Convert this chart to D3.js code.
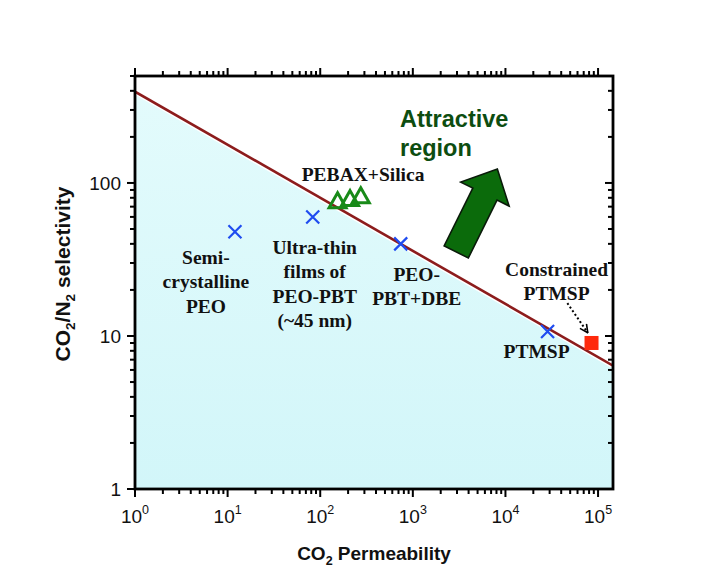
<!DOCTYPE html>
<html>
<head>
<meta charset="utf-8">
<script src="https://cdn.jsdelivr.net/npm/d3@7"></script>
<style>
  body { margin: 0; background: #fff; }
  svg { display: block; }
</style>
</head>
<body>
<svg id="chart" width="701" height="581"></svg>
<script>
// axis ranges and tick labels
const xDomain = [1, 1.45e5];
const yDomain = [1, 500];
const xTickExps = [0, 1, 2, 3, 4, 5];
const yTickLabels = [1, 10, 100];

// Robeson-type upper bound (end points)
const upperBound = [
  { p: 1, s: 395 },
  { p: 1.45e5, s: 6.4 }
];

// blue crosses
const crossPoints = [
  { p: 12, s: 48, label: ["Semi-", "crystalline", "PEO"] },
  { p: 83, s: 60, label: ["Ultra-thin", "films of", "PEO-PBT", "(~45 nm)"] },
  { p: 740, s: 40, label: ["PEO-", "PBT+DBE"] },
  { p: 28500, s: 10.7, label: ["PTMSP"] }
];

// green triangles
const silicaPoints = [
  { p: 154, s: 76.5 },
  { p: 210, s: 79 },
  { p: 274, s: 82.5 }
];
const silicaLabel = ["PEBAX+Silica"];

// red square
const constrainedPoints = [{ p: 85000, s: 9.0 }];
const constrainedLabel = ["Constrained", "PTMSP"];

// annotation arrows (data space)
const bigArrow = { from: { p: 2943, s: 35.4 }, to: { p: 8176, s: 123.4 } };
const dotArrow = { from: { p: 46600, s: 16.4 }, to: { p: 77400, s: 10.5 } };
const regionText = ["Attractive", "region"];

(function draw() {
  const width = 701;
  const height = 581;
  const margin = { top: 76, right: 88, bottom: 92, left: 135 };
  const svg = d3.select("#chart");

  const x = d3.scaleLog().domain(xDomain).range([margin.left, width - margin.right]);
  const y = d3.scaleLog().domain(yDomain).range([height - margin.bottom, margin.top]);
  const x0 = x.range()[0], x1 = x.range()[1];
  const y0 = y.range()[0], y1 = y.range()[1];

  const serif = "'Liberation Serif', 'Times New Roman', serif";
  const sans = "'Liberation Sans', Arial, sans-serif";

  const defs = svg.append("defs");
  const grad = defs.append("linearGradient")
    .attr("id", "fillGrad").attr("x1", 0).attr("x2", 0).attr("y1", 0).attr("y2", 1);
  grad.append("stop").attr("offset", "0%").attr("stop-color", "#e3fbfc");
  grad.append("stop").attr("offset", "100%").attr("stop-color", "#d2f6f9");

  defs.append("clipPath").attr("id", "plotClip")
    .append("rect").attr("x", x0).attr("y", y1).attr("width", x1 - x0).attr("height", y0 - y1);

  defs.append("marker")
    .attr("id", "dotHead")
    .attr("viewBox", "0 0 10 10")
    .attr("refX", 9).attr("refY", 5)
    .attr("markerWidth", 5).attr("markerHeight", 5)
    .attr("markerUnits", "strokeWidth")
    .attr("orient", "auto")
    .append("path")
    .attr("d", "M1,1 L9,5 L1,9")
    .attr("fill", "none")
    .attr("stroke", "#000")
    .attr("stroke-width", 1.6);

  const plot = svg.append("g").attr("clip-path", "url(#plotClip)");

  // shaded region below the bound
  const area = d3.area()
    .x(d => x(d.p))
    .y0(y0)
    .y1(d => y(d.s));
  plot.append("path")
    .datum(upperBound)
    .attr("d", area)
    .attr("fill", "url(#fillGrad)");

  const line = d3.line().x(d => x(d.p)).y(d => y(d.s));
  plot.append("path")
    .datum(upperBound)
    .attr("d", line)
    .attr("fill", "none")
    .attr("stroke", "#fff")
    .attr("stroke-width", 5.5);
  plot.append("path")
    .datum(upperBound)
    .attr("d", line)
    .attr("fill", "none")
    .attr("stroke", "#8c1c1c")
    .attr("stroke-width", 2.6);

  // multi-line label helper
  function addLabel(lines, cx, baseline, opts) {
    const o = opts || {};
    const t = svg.append("text")
      .attr("text-anchor", o.anchor || "middle")
      .attr("font-family", o.family || serif)
      .attr("font-weight", "bold")
      .attr("font-size", o.size || 19.5)
      .attr("fill", o.color || "#111");
    lines.forEach((s, i) => {
      t.append("tspan")
        .attr("x", cx)
        .attr("y", baseline + i * (o.lh || 24.5))
        .text(s);
    });
  }

  // label offsets from each cross (pixels)
  const crossOffsets = [[-29, 32], [2, 37], [16, 37], [-11, 27]];

  crossPoints.forEach((d, i) => {
    const cx = x(d.p), cy = y(d.s);
    addLabel(d.label, cx + crossOffsets[i][0], cy + crossOffsets[i][1]);
  });

  const cr = 6.5;
  svg.append("g").selectAll("path")
    .data(crossPoints)
    .join("path")
    .attr("transform", d => `translate(${x(d.p)},${y(d.s)})`)
    .attr("d", `M${-cr},${-cr}L${cr},${cr}M${-cr},${cr}L${cr},${-cr}`)
    .attr("fill", "none")
    .attr("stroke", "#1f4cf0")
    .attr("stroke-width", 2.2);

  // triangles
  svg.append("g").selectAll("path")
    .data(silicaPoints)
    .join("path")
    .attr("transform", d => `translate(${x(d.p)},${y(d.s)})`)
    .attr("d", "M0,-8L8.5,7L-8.5,7Z")
    .attr("fill", "none")
    .attr("stroke", "#188a18")
    .attr("stroke-width", 3)
    .attr("stroke-linejoin", "miter");
  const midTri = silicaPoints[1];
  addLabel(silicaLabel, x(midTri.p) + 13, y(midTri.s) - 18);

  // square
  const sq = 14;
  svg.append("g").selectAll("rect")
    .data(constrainedPoints)
    .join("rect")
    .attr("x", d => x(d.p) - sq / 2)
    .attr("y", d => y(d.s) - sq / 2)
    .attr("width", sq)
    .attr("height", sq)
    .attr("fill", "#ff2a0c");
  const cp = constrainedPoints[0];
  addLabel(constrainedLabel, x(cp.p) - 35, y(cp.s) - 67);

  // dotted pointer
  svg.append("line")
    .attr("x1", x(dotArrow.from.p)).attr("y1", y(dotArrow.from.s))
    .attr("x2", x(dotArrow.to.p)).attr("y2", y(dotArrow.to.s))
    .attr("stroke", "#000")
    .attr("stroke-width", 2)
    .attr("stroke-dasharray", "2,2.4")
    .attr("marker-end", "url(#dotHead)");

  // block arrow
  const ax0 = x(bigArrow.from.p), ay0 = y(bigArrow.from.s);
  const ax1 = x(bigArrow.to.p), ay1 = y(bigArrow.to.s);
  const len = Math.hypot(ax1 - ax0, ay1 - ay0);
  const ux = (ax1 - ax0) / len, uy = (ay1 - ay0) / len;
  const nx = -uy, ny = ux;
  const shaftW = 27, headW = 54, headL = 28;
  const bx = ax1 - ux * headL, by = ay1 - uy * headL;
  const pts = [
    [ax0 + nx * shaftW / 2, ay0 + ny * shaftW / 2],
    [bx + nx * shaftW / 2, by + ny * shaftW / 2],
    [bx + nx * headW / 2, by + ny * headW / 2],
    [ax1, ay1],
    [bx - nx * headW / 2, by - ny * headW / 2],
    [bx - nx * shaftW / 2, by - ny * shaftW / 2],
    [ax0 - nx * shaftW / 2, ay0 - ny * shaftW / 2]
  ];
  svg.append("path")
    .attr("d", d3.line()(pts) + "Z")
    .attr("fill", "#0b6b0b")
    .attr("stroke", "#0a1a0a")
    .attr("stroke-width", 1.6)
    .attr("stroke-linejoin", "miter");

  addLabel(regionText, 400, 127, { family: sans, size: 23.5, color: "#0d4d10", anchor: "start", lh: 29 });

  // frame
  svg.append("rect")
    .attr("x", x0).attr("y", y1)
    .attr("width", x1 - x0).attr("height", y0 - y1)
    .attr("fill", "none")
    .attr("stroke", "#000")
    .attr("stroke-width", 2.8);

  const isMajor = v => Math.abs(Math.log10(v) - Math.round(Math.log10(v))) < 1e-9;
  const ticksG = svg.append("g").attr("stroke", "#000").attr("stroke-width", 2);

  x.ticks().forEach(v => {
    const len = isMajor(v) ? 8 : 5;
    const px = x(v);
    ticksG.append("line").attr("x1", px).attr("x2", px).attr("y1", y0).attr("y2", y0 + len);
    ticksG.append("line").attr("x1", px).attr("x2", px).attr("y1", y1).attr("y2", y1 - len);
  });
  y.ticks().forEach(v => {
    const len = isMajor(v) ? 8 : 5;
    const py = y(v);
    ticksG.append("line").attr("x1", x0).attr("x2", x0 - len).attr("y1", py).attr("y2", py);
    ticksG.append("line").attr("x1", x1).attr("x2", x1 - len).attr("y1", py).attr("y2", py);
  });

  // tick labels
  xTickExps.forEach(e => {
    const t = svg.append("text")
      .attr("x", x(Math.pow(10, e)))
      .attr("y", y0 + 34)
      .attr("text-anchor", "middle")
      .attr("font-family", sans)
      .attr("font-size", 19)
      .attr("fill", "#111");
    t.append("tspan").text("10");
    t.append("tspan").attr("dy", -9).attr("font-size", 12.5).text(e);
  });
  yTickLabels.forEach(v => {
    svg.append("text")
      .attr("x", x0 - 14)
      .attr("y", y(v))
      .attr("dy", "0.35em")
      .attr("text-anchor", "end")
      .attr("font-family", sans)
      .attr("font-size", 19)
      .attr("fill", "#111")
      .text(v);
  });

  // axis titles
  const xt = svg.append("text")
    .attr("x", 374)
    .attr("y", 560)
    .attr("text-anchor", "middle")
    .attr("font-family", sans)
    .attr("font-weight", "bold")
    .attr("font-size", 19)
    .attr("fill", "#111");
  xt.append("tspan").text("CO");
  xt.append("tspan").attr("dy", 5).attr("font-size", 12.5).text("2");
  xt.append("tspan").attr("dy", -5).text(" Permeability");

  const yt = svg.append("text")
    .attr("transform", "translate(70,274) rotate(-90)")
    .attr("text-anchor", "middle")
    .attr("font-family", sans)
    .attr("font-weight", "bold")
    .attr("font-size", 21)
    .attr("fill", "#111");
  yt.append("tspan").text("CO");
  yt.append("tspan").attr("dy", 5).attr("font-size", 13.5).text("2");
  yt.append("tspan").attr("dy", -5).text("/N");
  yt.append("tspan").attr("dy", 5).attr("font-size", 13.5).text("2");
  yt.append("tspan").attr("dy", -5).text(" selectivity");
})();
</script>
</body>
</html>
